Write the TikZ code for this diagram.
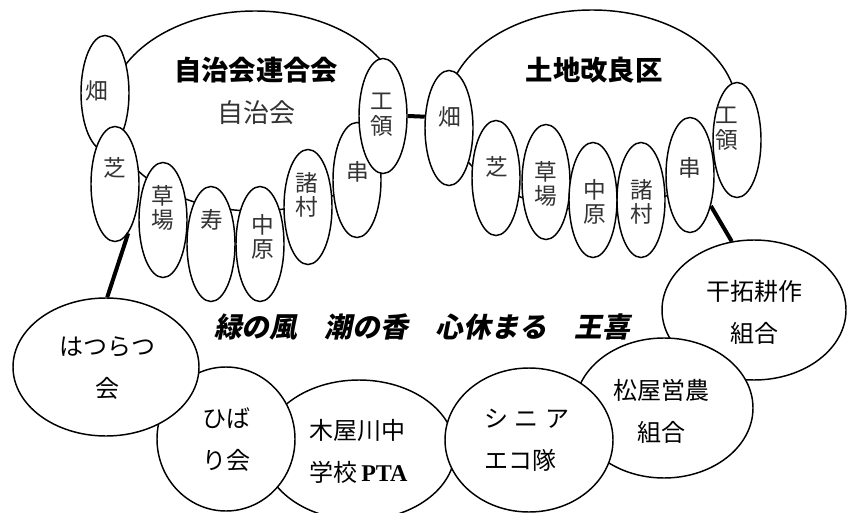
\documentclass[tikz,border=0pt]{standalone}
\usepackage{fontspec}
\newfontfamily\jp{Noto Sans CJK JP}
\newfontfamily\jpsl{Noto Sans CJK JP}[FakeSlant=0.2]
\newfontfamily\lat{Liberation Serif}
\usetikzlibrary{shapes.geometric}
\begin{document}
\begin{tikzpicture}[x=0.75pt,y=-0.75pt,
  ov/.style={ellipse,draw,fill=white,line width=1.1pt,inner sep=0pt},
  bigov/.style={ov,minimum width=219pt,minimum height=150pt},
  sm/.style={ov,minimum width=36pt,minimum height=86.25pt},
  lab/.style={inner sep=0pt,align=center,text=black!80,font=\jp\fontsize{17}{18.5}\selectfont},
  ttl/.style={inner sep=0pt,font=\jp\bfseries\fontsize{20.5}{24}\selectfont},
  blab/.style={inner sep=0pt,font=\jp\fontsize{18}{31.5}\selectfont},
  conn/.style={line width=3pt}
]
\useasboundingbox (0,0) rectangle (856,513);

% group 1
\node[bigov] (rengo) at (255,111) {};
\node[sm] (hata1) at (105,93) {};
\node[sm] (shiba1) at (115,184) {};
\node[sm] (kusa1) at (163,220) {};
\node[sm] (kotobuki1) at (211,244) {};
\node[sm] (naka1) at (260,244) {};
\node[sm] (moro1) at (308,207) {};
\node[sm] (kushi1) at (357,180) {};
\node[sm] (koryo1) at (383,116) {};

% group 2
\node[bigov,minimum width=217.5pt] (kairyo) at (592,110) {};
\node[sm] (hata2) at (449,128) {};
\node[sm] (shiba2) at (496,178) {};
\node[sm] (kusa2) at (546,182) {};
\node[sm] (naka2) at (593,200) {};
\node[sm] (moro2) at (641,200) {};
\node[sm] (kushi2) at (690,175) {};
\node[sm] (koryo2) at (737,140) {};

% bottom groups
\node[ov,minimum width=138pt,minimum height=105pt] (kantaku) at (754,310) {};
\node[ov,minimum width=133.5pt,minimum height=105pt] (matsuya) at (664,408) {};
\node[ov,minimum width=144pt,minimum height=105pt] (pta) at (359,450) {};
\node[ov,minimum width=126pt,minimum height=108pt] (senior) at (529,440) {};
\node[ov,minimum width=103.5pt,minimum height=108pt] (hibari) at (226,439) {};
\node[ov,minimum width=139.5pt,minimum height=103.5pt] (hatsu) at (106,367) {};

% connectors
\draw[conn] (koryo1.east) -- (hata2.155);
\draw[conn] (shiba1.-75) -- (hatsu.89);
\draw[conn] (kushi2.-56) -- (kantaku.108);

% titles
\node[ttl] (t-rengo) at (256,70) {自治会連合会};
\node[lab,font=\jp\fontsize{19.5}{24}\selectfont] (t-jichi) at (256,113) {自治会};
\node[ttl] (t-kairyo) at (594,70) {土地改良区};

% group 1 labels
\node[lab] (l-hata1) at (97,91) {畑};
\node[lab] (l-shiba1) at (115,168) {芝};
\node[lab] (l-kusa1) at (163,208) {草\\場};
\node[lab] (l-kotobuki1) at (212,220) {寿};
\node[lab] (l-naka1) at (263,237) {中\\原};
\node[lab] (l-moro1) at (307,195) {諸\\村};
\node[lab] (l-kushi1) at (358,172) {串};
\node[lab] (l-koryo1) at (382,115) {工\\領};

% group 2 labels
\node[lab] (l-hata2) at (450,117) {畑};
\node[lab] (l-shiba2) at (497,167) {芝};
\node[lab] (l-kusa2) at (546,184) {草\\場};
\node[lab] (l-naka2) at (595,202) {中\\原};
\node[lab] (l-moro2) at (642,202) {諸\\村};
\node[lab] (l-kushi2) at (690,168) {串};
\node[lab] (l-koryo2) at (727,129) {工\\領};

% bottom labels
\node[blab,align=center] (t-kantaku) at (754,312) {干拓耕作\\組合};
\node[blab,align=center] (t-matsuya) at (661,411) {松屋営農\\組合};
\node[blab,align=left,anchor=west] (t-senior) at (484,440) {シ\hspace{5pt}ニ\hspace{5pt}ア\\エコ隊};
\node[blab,align=left,anchor=west] (t-pta) at (309,451) {木屋川中\\学校\,{\lat\bfseries PTA}};
\node[blab,align=left,anchor=west] (t-hibari) at (202,440) {ひば\\り会};
\node[blab,align=center] (t-hatsu) at (107,368) {はつらつ\\会};

% slogan
\node[inner sep=0pt,font=\jpsl\bfseries\fontsize{20.8}{24}\selectfont] (slogan) at (422,327) {緑の風　潮の香　心休まる　王喜};
\end{tikzpicture}
\end{document}
